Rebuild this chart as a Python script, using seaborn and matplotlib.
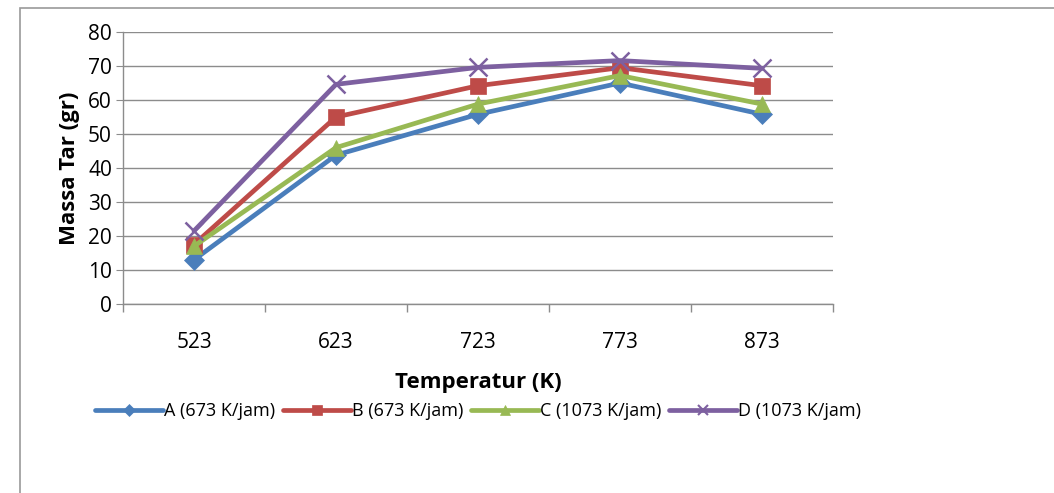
import matplotlib
matplotlib.use("Agg")
import matplotlib.pyplot as plt
import seaborn as sns
import pandas as pd
from matplotlib.patches import Rectangle
from matplotlib.lines import Line2D
from matplotlib.ticker import FixedLocator, NullFormatter

categories = ["523", "623", "723", "773", "873"]
series_names = ["A (673 K/jam)", "B (673 K/jam)", "C (1073 K/jam)", "D (1073 K/jam)"]
a_vals = [13, 43.8, 55.8, 65, 55.8]
b_vals = [17.5, 55, 64.2, 69.5, 64.2]
c_vals = [17, 46, 58.8, 67.2, 58.8]
d_vals = [21.5, 64.6, 69.6, 71.6, 69.3]

colors = ["#4A7EBB", "#BE4B48", "#98B954", "#7D60A0"]
markers = ["D", "s", "^", "x"]
msizes = [10, 12, 12, 13]

rows = []
for name, vals in zip(series_names, [a_vals, b_vals, c_vals, d_vals]):
    for c, v in zip(categories, vals):
        rows.append({"Temperatur": c, "Massa": v, "Series": name})
df = pd.DataFrame(rows)

sns.set_style("white")
plt.rcParams["font.family"] = ["Open Sans", "DejaVu Sans"]
plt.rcParams["text.color"] = "black"
plt.rcParams["axes.labelcolor"] = "black"
plt.rcParams["xtick.color"] = "black"
plt.rcParams["ytick.color"] = "black"

fig = plt.figure(figsize=(10.54, 4.93), dpi=100)
fig.patches.append(Rectangle((20 / 1054, -0.01), 1.0, 1 - 8 / 493 + 0.01,
                             transform=fig.transFigure, fill=False,
                             edgecolor="#9a9a9a", linewidth=1.2))
ax = fig.add_axes([123 / 1054, 1 - 304 / 493, (833 - 123) / 1054, (304 - 32) / 493])

for name, col, mk, ms in zip(series_names, colors, markers, msizes):
    sub = df[df["Series"] == name]
    sns.lineplot(data=sub, x="Temperatur", y="Massa", ax=ax, color=col,
                 marker=mk, markersize=ms, linewidth=3.4,
                 markeredgecolor=col, markeredgewidth=1.8 if mk == "x" else 0.5,
                 sort=False)

ax.set_xlim(-0.5, 4.5)
ax.set_ylim(0, 80)
ax.set_yticks(range(0, 81, 10))
ax.yaxis.grid(True, color="#8c8c8c", linewidth=1.0)
ax.xaxis.grid(False)
for s in ["top", "right"]:
    ax.spines[s].set_visible(False)
for s in ["left", "bottom"]:
    ax.spines[s].set_color("#8c8c8c")
    ax.spines[s].set_linewidth(1.0)

ax.xaxis.set_minor_locator(FixedLocator([-0.5, 0.5, 1.5, 2.5, 3.5, 4.5]))
ax.xaxis.set_minor_formatter(NullFormatter())
ax.tick_params(axis="x", which="major", length=0, labelsize=15, pad=20)
ax.tick_params(axis="x", which="minor", length=6, color="#8c8c8c", width=1.0, bottom=True)
ax.tick_params(axis="y", which="major", length=5, color="#8c8c8c", labelsize=15, left=True, pad=3)

ax.set_xlabel("Temperatur (K)", fontsize=16, fontweight="bold", labelpad=14)
ax.set_ylabel("Massa Tar (gr)", fontsize=16, fontweight="bold", labelpad=6)

handles = [Line2D([], [], color=col, marker=mk, markersize=ms * 0.6, linewidth=3.4,
                  markeredgecolor=col, markeredgewidth=1.5 if mk == "x" else 0.5)
           for col, mk, ms in zip(colors, markers, msizes)]
ax.legend(handles, series_names, loc="upper center", bbox_to_anchor=(0.5, -0.30),
          ncol=4, frameon=False, fontsize=13, handlelength=3.8,
          handletextpad=0.05, columnspacing=0.4)

fig.savefig("out.png", dpi=100)
